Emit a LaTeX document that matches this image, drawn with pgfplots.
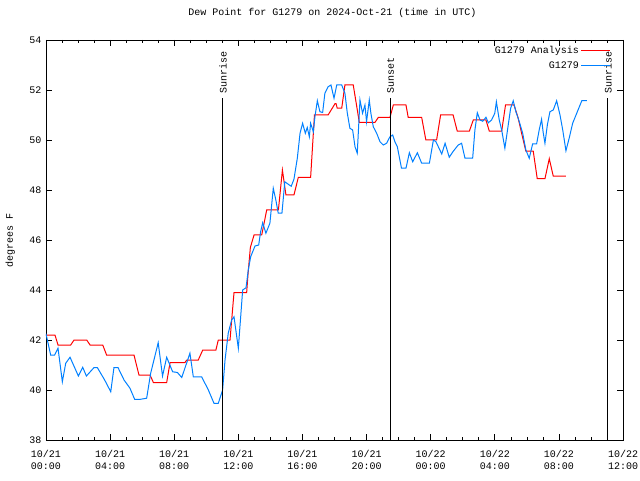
\documentclass[border=0pt]{standalone}
\usepackage{fontspec}
\setmainfont{Liberation Mono}
\usepackage{pgfplots}
\pgfplotsset{compat=1.18}
\definecolor{gred}{RGB}{255,0,0}
\definecolor{gblue}{RGB}{0,128,255}
\begin{document}
\begin{tikzpicture}[font=\fontsize{10}{12}\selectfont]
\useasboundingbox (0,0) rectangle (640pt,480pt);
\begin{axis}[
  at={(46pt,40pt)}, anchor=south west,
  width=577pt, height=400pt, scale only axis,
  xmin=0, xmax=36, ymin=38, ymax=54,
  xtick={0,4,...,36},
  xticklabels={{10/21\\00:00},{10/21\\04:00},{10/21\\08:00},{10/21\\12:00},{10/21\\16:00},{10/21\\20:00},{10/22\\00:00},{10/22\\04:00},{10/22\\08:00},{10/22\\12:00}},
  xticklabel style={align=center, font=\fontsize{10}{12}\selectfont, yshift=-7pt},
  yticklabel style={xshift=-1pt},
  minor x tick num=3,
  ytick={38,40,...,54},
  /pgf/number format/assume math mode=true,
  tick align=inside,
  major tick length=6pt, minor tick length=3pt,
  tick style={black, line width=0.6pt},
  axis line style={black, line width=0.8pt},
  ylabel={degrees F},
  ylabel style={at={(axis description cs:-0.062,0.5)}, anchor=center},
  title={Dew Point for G1279 on 2024-Oct-21 (time in UTC)},
  title style={at={(axis description cs:0.5,1)}, anchor=center, yshift=21pt, xshift=-2pt},
  legend style={at={(axis description cs:1,1)}, anchor=north east, xshift=-11pt, yshift=-2pt, draw=none, fill=none, inner sep=1pt, nodes={text height=8pt, text depth=3pt}},
  legend cell align=right,
  legend plot pos=right,
  legend image code/.code={\draw[#1] (0pt,0pt) -- (29pt,0pt);},
]
\addplot[gred, line width=1pt] coordinates {
(0,42.2) (0.56,42.2) (0.75,41.8) (1.54,41.8) (1.75,42.0) (2.54,42.0) (2.75,41.8) (3.54,41.8) (3.78,41.4) (5.49,41.4) (5.8,40.6) (6.49,40.6) (6.7,40.3) (7.53,40.3) (7.74,41.1) (8.67,41.1) (8.78,41.2) (9.5,41.2) (9.78,41.6) (10.6,41.6) (10.75,42.0) (11.48,42.0) (11.73,43.9) (12.52,43.9) (12.6,44.6) (12.75,45.7) (12.98,46.2) (13.46,46.2) (13.77,47.2) (14.5,47.2) (14.75,48.8) (14.97,47.8) (15.47,47.8) (15.74,48.5) (16.51,48.5) (16.75,51.0) (17.6,51.0) (18.03,51.45) (18.1,51.45) (18.17,51.27) (18.45,51.27) (18.65,52.2) (19.17,52.2) (19.55,50.7) (20.52,50.7) (20.73,50.9) (21.46,50.9) (21.67,51.4) (22.46,51.4) (22.6,50.9) (23.44,50.9) (23.7,50.0) (24.37,50.0) (24.62,51.0) (25.4,51.0) (25.66,50.35) (26.41,50.35) (26.66,50.8) (27.45,50.8) (27.66,50.35) (28.43,50.35) (28.67,51.4) (29.2,51.4) (29.45,50.9) (29.7,50.2) (29.94,49.55) (30.4,49.55) (30.65,48.45) (31.13,48.45) (31.4,49.25) (31.65,48.55) (32.44,48.55)
};
\addlegendentry{G1279 Analysis}
\addplot[gblue, line width=1pt] coordinates {
(0,42.25) (0.29,41.4) (0.54,41.4) (0.75,41.67) (1.02,40.33) (1.23,41.07) (1.5,41.31) (2.02,40.56) (2.29,40.91) (2.52,40.56) (3.0,40.9) (3.2,40.9) (3.66,40.4) (4.04,39.93) (4.24,40.9) (4.49,40.9) (4.87,40.4) (5.24,40.07) (5.53,39.63) (5.9,39.63) (6.28,39.67) (6.53,40.67) (7.0,41.89) (7.27,40.56) (7.53,41.31) (7.9,40.73) (8.2,40.7) (8.47,40.5) (8.98,41.47) (9.19,40.53) (9.71,40.53) (10.13,40.0) (10.48,39.47) (10.75,39.47) (11.02,40.0) (11.17,41.2) (11.37,42.27) (11.58,42.8) (11.73,42.93) (12.0,41.67) (12.1,42.53) (12.27,44.0) (12.48,44.09) (12.62,44.8) (12.77,45.33) (13.04,45.76) (13.27,45.8) (13.39,46.33) (13.52,46.69) (13.72,46.27) (13.97,46.67) (14.18,48.07) (14.34,47.6) (14.49,47.07) (14.72,47.07) (14.9,48.33) (15.18,48.2) (15.3,48.15) (15.47,48.43) (15.68,49.27) (15.85,50.27) (16.01,50.67) (16.18,50.27) (16.3,50.5) (16.43,50.13) (16.51,50.67) (16.68,50.33) (16.78,50.93) (16.93,51.57) (17.09,51.13) (17.26,51.1) (17.4,51.87) (17.6,52.13) (17.78,52.2) (17.97,51.67) (18.14,52.2) (18.45,52.2) (18.65,51.87) (18.8,51.07) (18.96,50.47) (19.13,50.4) (19.28,49.73) (19.42,49.47) (19.59,51.6) (19.75,51.07) (19.9,51.4) (20.0,50.73) (20.17,51.6) (20.27,51.07) (20.42,50.53) (20.63,50.27) (20.84,49.93) (21.04,49.8) (21.25,49.87) (21.46,50.13) (21.63,50.2) (21.77,49.93) (21.92,49.73) (22.08,49.2) (22.18,48.87) (22.46,48.87) (22.67,49.49) (22.88,49.13) (23.17,49.49) (23.44,49.07) (23.92,49.07) (24.17,50.0) (24.33,49.93) (24.69,49.44) (24.9,49.87) (25.16,49.31) (25.41,49.55) (25.72,49.8) (25.93,49.87) (26.14,49.27) (26.62,49.27) (26.76,50.4) (26.91,51.09) (27.08,50.8) (27.25,50.75) (27.45,50.91) (27.6,50.69) (27.8,50.8) (28.0,51.07) (28.1,51.53) (28.28,50.8) (28.43,50.4) (28.63,49.67) (28.84,50.6) (28.99,51.27) (29.15,51.57) (29.32,51.13) (29.53,50.73) (29.74,50.27) (29.94,49.6) (30.15,49.27) (30.36,49.84) (30.61,49.84) (30.77,50.4) (30.92,50.83) (31.02,50.3) (31.13,49.87) (31.28,50.6) (31.44,51.13) (31.65,51.2) (31.86,51.57) (32.07,51.0) (32.24,50.4) (32.44,49.57) (32.64,50.07) (32.86,50.67) (33.15,51.13) (33.43,51.57) (33.74,51.57)
};
\addlegendentry{G1279}
\addplot[black, line width=1pt, forget plot] coordinates {(11.04,38) (11.04,51.68)};
\addplot[black, line width=1pt, forget plot] coordinates {(21.5,38) (21.5,51.68)};
\addplot[black, line width=1pt, forget plot] coordinates {(35.06,38) (35.06,51.68)};
\node[rotate=90, anchor=west, inner sep=1pt] at (axis cs:11.04,51.8) {Sunrise};
\node[rotate=90, anchor=west, inner sep=1pt] at (axis cs:21.5,51.8) {Sunset};
\node[rotate=90, anchor=west, inner sep=1pt] at (axis cs:35.06,51.8) {Sunrise};
\end{axis}
\end{tikzpicture}
\end{document}
